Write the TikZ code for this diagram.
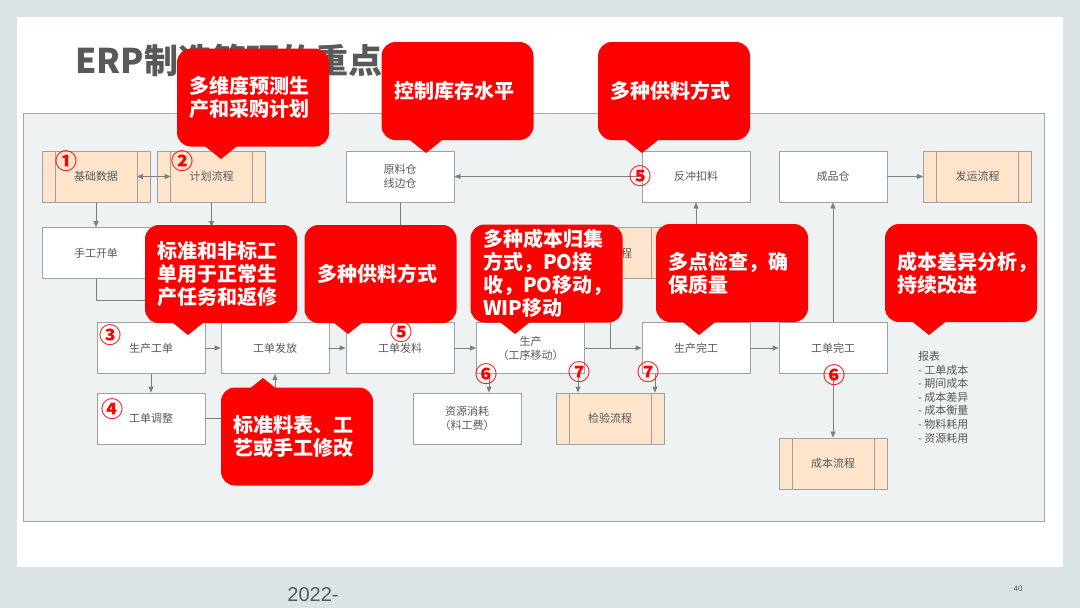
\documentclass[tikz,border=0pt]{standalone}
\usepackage{fontspec}
\setmainfont{Noto Sans CJK SC}
\newfontfamily\footfont{Liberation Sans}
\usetikzlibrary{arrows.meta,positioning,calc}

\definecolor{slidebg}{HTML}{DCE3E6}
\definecolor{panelbg}{HTML}{EEF2F3}
\definecolor{panelline}{HTML}{A6A6A6}
\definecolor{boxline}{HTML}{A0A0A0}
\definecolor{peach}{HTML}{FDE4CB}
\definecolor{txtgray}{HTML}{595959}
\definecolor{linegray}{HTML}{7F7F7F}
\definecolor{calred}{HTML}{FF0000}

\newcommand\bxfont{\fontsize{11}{14}\selectfont}
\newcommand\cofont{\fontsize{20}{23}\selectfont\bfseries}
\newcommand\numfont{\fontsize{22}{22}\selectfont\bfseries}

\begin{document}
\begin{tikzpicture}[x=1pt,y=-1pt,
  box/.style={draw=boxline,line width=0.8pt,fill=white,minimum width=108pt,minimum height=51pt,inner sep=2pt,align=center,font=\bxfont,text=txtgray},
  proc/.style={box,fill=peach},
  arr/.style={-{Triangle[length=6pt,width=5pt]},draw=linegray,line width=0.8pt},
  link/.style={draw=linegray,line width=0.8pt},
  num/.style={text=red,font=\numfont,inner sep=0pt},
  callout/.style={fill=calred,rounded corners=14pt,text=white,font=\cofont,text width=127pt,align=left,inner xsep=12.5pt,inner ysep=0pt,minimum height=98pt}
]
% slide and panel
\fill[slidebg] (0,0) rectangle (1080,608);
\fill[white] (17,17) rectangle (1063,567);
\draw[panelline,fill=panelbg] (23,113) rectangle (1044,521);
\useasboundingbox (0,0) rectangle (1080,608);

\node[anchor=west,inner sep=0pt,text=txtgray,font=\fontsize{34}{34}\selectfont\bfseries] (title) at (75,60) {ERP制造管理的重点};

% row 1
\node[proc] (base) at (96,176.5) {基础数据};
\node[proc] (plan) at (211.5,176.5) {计划流程};
\node[box] (raw) at (400,176.5) {原料仓\\线边仓};
\node[box] (flush) at (696,176.5) {反冲扣料};
\node[box] (fg) at (833,176.5) {成品仓};
\node[proc] (ship) at (977.5,176.5) {发运流程};
% row 2
\node[box] (manual) at (96,253) {手工开单};
\node[proc] (osp) at (610,253) {外协流程};
\coordinate (mrp) at (211.5,227);
% row 3
\node[box] (wo) at (151,348) {生产工单};
\node[box] (rel) at (275,348) {工单发放};
\node[box] (iss) at (400,348) {工单发料};
\node[box] (prod) at (530.5,348) {生产\\（工序移动）};
\node[box] (done) at (696,348) {生产完工};
\node[box] (woc) at (833,348) {工单完工};
% row 4
\node[box] (adj) at (151,418.5) {工单调整};
\node[box] (res) at (467,418.5) {资源消耗\\（料工费）};
\node[proc] (insp) at (610,418.5) {检验流程};
\node[proc] (cost) at (833,463.5) {成本流程};

\foreach \n in {base,plan,ship,osp,insp,cost}
  \draw[boxline,line width=0.8pt] ([xshift=13.5pt]\n.north west) -- ([xshift=13.5pt]\n.south west)
    ([xshift=-13.5pt]\n.north east) -- ([xshift=-13.5pt]\n.south east);

% connectors
\draw[arr,{Triangle[length=6pt,width=5pt]}-{Triangle[length=6pt,width=5pt]}] ([xshift=-13.5pt]base.east) -- ([xshift=13.5pt]plan.west);
\draw[arr] (flush) -- (raw);
\draw[arr] (fg) -- (ship);
\draw[arr] (base) -- (manual);
\draw[arr] (plan) -- (mrp);
\draw[arr] (manual.south) -- ++(0,21) -| (wo.north);
\draw[arr] (raw) -- (iss);
\draw[arr] (wo) -- (rel);
\draw[arr] (rel) -- (iss);
\draw[arr] (iss) -- (prod);
\draw[arr] (prod) -- (done);
\draw[arr] (done) -- (woc);
\draw[link] (osp.south) -- (osp.south |- prod.east);
\draw[arr] (done) -- (flush);
\draw[arr] (woc) -- (fg);
\draw[arr] (wo) -- (adj);
\draw[arr] (adj.east) -| (rel.south);
\draw[arr] ([xshift=-41.5pt]prod.south) -- ([xshift=22pt]res.north);
\draw[arr] ([xshift=47.5pt]prod.south) -- ([xshift=-32pt]insp.north);
\draw[arr] ([xshift=-41pt]done.south) -- ([xshift=45pt]insp.north);
\draw[arr] (woc) -- (cost);

% step numbers
\node[num] (n1) at (67,161) {①};
\node[num] (n2) at (182,161) {②};
\node[num] (n5a) at (640,176) {⑤};
\node[num] (n3) at (110,335) {③};
\node[num] (n4) at (112,409) {④};
\node[num] (n5b) at (401,332) {⑤};
\node[num] (n6a) at (486,374) {⑥};
\node[num] (n7a) at (579,372) {⑦};
\node[num] (n7b) at (648,372) {⑦};
\node[num] (n6b) at (834,375) {⑥};

\node[anchor=north west,inner sep=0pt,align=left,text=txtgray,font=\fontsize{11}{13.6}\selectfont] (report) at (918,351)
  {报表\\- 工单成本\\- 期间成本\\- 成本差异\\- 成本衡量\\- 物料耗用\\- 资源耗用};

% callouts
\node[callout] (c1) at (253,97.5) {多维度预测生\\产和采购计划};
\node[callout] (c2) at (457.5,91) {控制库存水平};
\node[callout] (c3) at (674,91) {多种供料方式};
\node[callout] (c4) at (221,274) {标准和非标工\\单用于正常生\\产任务和返修};
\node[callout] (c5) at (380.5,274) {多种供料方式};
\node[callout] (c6) at (546.5,273.5) {多种成本归集\\方式，PO接\\收，PO移动，\\WIP移动};
\node[callout] (c7) at (732,273) {多点检查，确\\保质量};
\node[callout] (c8) at (961,273) {成本差异分析，\\持续改进};
\node[callout] (c9) at (297,436.5) {标准料表、工\\艺或手工修改};
\foreach \x/\y in {221/159,426/153,642/153,188/335,348/334,515/334,699/335,929/335}
  \fill[calred] (\x,\y) -- ++(-20,-16) -- ++(40,0) -- cycle;
\fill[calred] (263,378) -- ++(-20,16) -- ++(40,0) -- cycle;

% footer
\node[text=txtgray,font=\footfont\fontsize{20}{20}\selectfont] (year) at (313,595) {2022-};
\node[text=txtgray,font=\footfont\fontsize{8}{8}\selectfont] (page) at (1018,589) {40};
\end{tikzpicture}
\end{document}
